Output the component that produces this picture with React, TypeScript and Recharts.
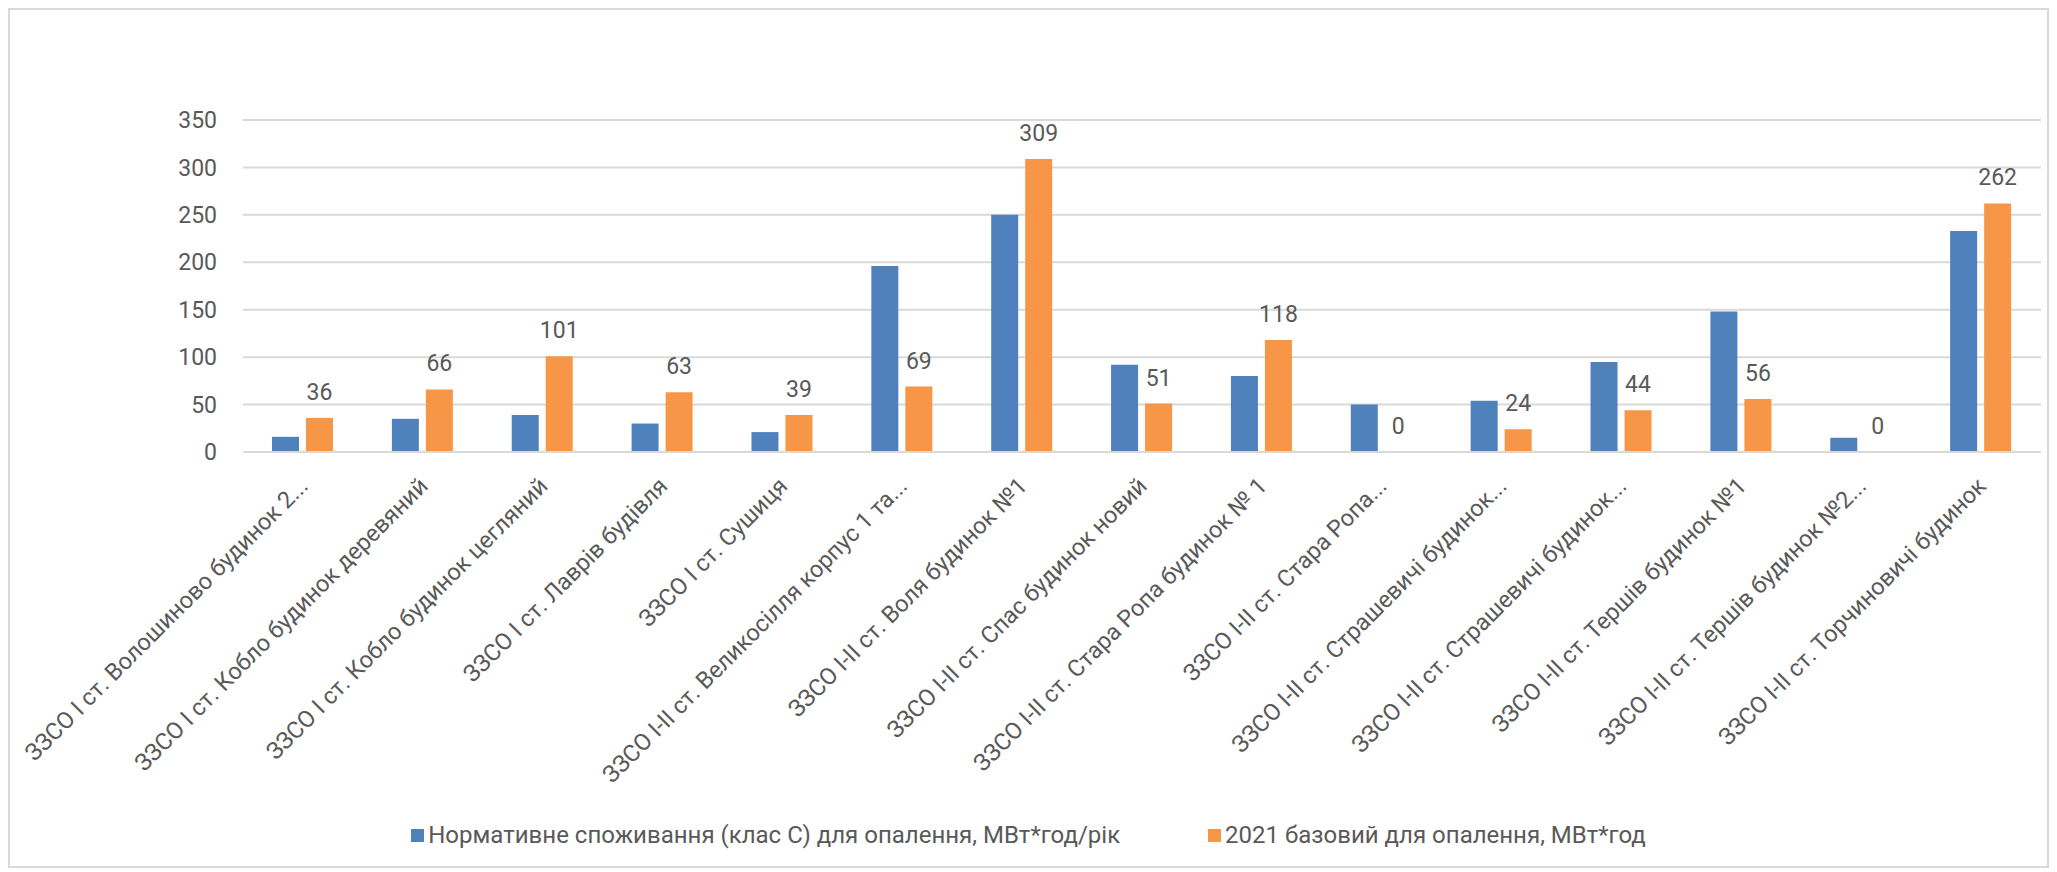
import { BarChart, Bar, XAxis, YAxis, CartesianGrid, Legend, LabelList } from "recharts";

// назви шкіл так, як їх показує Excel (обрізані з "...")
const schools = [
  "ЗЗСО І ст. Волошиново будинок 2...",
  "ЗЗСО І ст. Кобло будинок деревяний",
  "ЗЗСО І ст. Кобло будинок цегляний",
  "ЗЗСО І ст. Лаврів будівля",
  "ЗЗСО І ст.  Сушиця",
  "ЗЗСО І-ІІ ст. Великосілля корпус 1 та...",
  "ЗЗСО І-ІІ ст. Воля будинок №1",
  "ЗЗСО І-ІІ ст. Спас  будинок новий",
  "ЗЗСО І-ІІ ст. Стара Ропа будинок № 1",
  "ЗЗСО І-ІІ ст. Стара Ропа...",
  "ЗЗСО І-ІІ ст. Страшевичі будинок...",
  "ЗЗСО І-ІІ ст. Страшевичі будинок...",
  "ЗЗСО І-ІІ ст. Тершів будинок №1",
  "ЗЗСО І-ІІ ст. Тершів будинок №2...",
  "ЗЗСО І-ІІ ст. Торчиновичі будинок",
];

const normative = [16, 35, 39, 30, 21, 196, 250, 92, 80, 50, 54, 95, 148, 15, 233];
const base2021 = [36, 66, 101, 63, 39, 69, 309, 51, 118, 0, 24, 44, 56, 0, 262];

const yTicks = [0, 50, 100, 150, 200, 250, 300, 350];

const normName = "Нормативне споживання (клас С) для опалення, МВт*год/рік";
const baseName = "2021 базовий для опалення, МВт*год";

const data = schools.map((name, i) => ({
  name,
  normative: normative[i],
  base: base2021[i],
}));

const FONT = "Roboto, sans-serif";
const GREY = "#595959";
const BLUE = "#4F81BD";
const ORANGE = "#F79646";

const SchoolTick = ({ x, y, payload }: any) => (
  <g transform={`translate(${x - 6},${y + 5})`}>
    <text
      x={0}
      y={0}
      dy="0.75em"
      textAnchor="end"
      transform="rotate(-45)"
      fill={GREY}
      fontSize={23.5}
      fontFamily={FONT}
    >
      {payload.value}
    </text>
  </g>
);

// підписи над помаранчевими стовпцями, в т.ч. нульові
const ValueLabel = ({ x, y, width, height, value }: any) => (
  <text
    x={x + width / 2}
    y={y + Math.min(height, 0) - 18}
    textAnchor="middle"
    fill={GREY}
    fontSize={23}
    fontFamily={FONT}
  >
    {String(value)}
  </text>
);

const LegendBox = () => (
  <div
    style={{
      display: "flex",
      justifyContent: "center",
      gap: 88,
      fontFamily: FONT,
      fontSize: 24,
      color: GREY,
    }}
  >
    {[
      { c: BLUE, t: normName },
      { c: ORANGE, t: baseName },
    ].map((it) => (
      <div key={it.t} style={{ display: "flex", alignItems: "center" }}>
        <span style={{ width: 13, height: 13, background: it.c, marginRight: 4 }} />
        <span>{it.t}</span>
      </div>
    ))}
  </div>
);

export default function App() {
  return (
    <div
      style={{
        width: 2041,
        height: 860,
        border: "2px solid #d9d9d9",
        boxSizing: "border-box",
        position: "relative",
        background: "#fff",
      }}
    >
      <BarChart
        width={2037}
        height={856}
        data={data}
        margin={{ top: 110, right: 6, bottom: 14, left: 0 }}
        barGap={7}
        barSize={27}
      >
        <CartesianGrid vertical={false} stroke="#d9d9d9" strokeWidth={2} />
        <XAxis
          dataKey="name"
          interval={0}
          height={400}
          tickLine={false}
          tickSize={0}
          tickMargin={18}
          axisLine={{ stroke: "#d9d9d9", strokeWidth: 2 }}
          tick={<SchoolTick />}
        />
        <YAxis
          width={233}
          domain={[0, 350]}
          ticks={yTicks}
          axisLine={false}
          tickLine={false}
          tickSize={0}
          tickMargin={26}
          tick={{ fill: GREY, fontSize: 23, fontFamily: FONT }}
        />
        <Legend
          layout="horizontal"
          verticalAlign="middle"
          align="center"
          content={<LegendBox />}
          wrapperStyle={{ top: 811, left: 0, width: 2037 }}
        />
        <Bar dataKey="normative" name={normName} fill={BLUE} isAnimationActive={false} />
        <Bar
          dataKey="base"
          name={baseName}
          fill={ORANGE}
          minPointSize={(v: number) => (v === 0 ? 0.01 : 0)}
          isAnimationActive={false}
        >
          <LabelList dataKey="base" content={<ValueLabel />} />
        </Bar>
      </BarChart>
    </div>
  );
}
